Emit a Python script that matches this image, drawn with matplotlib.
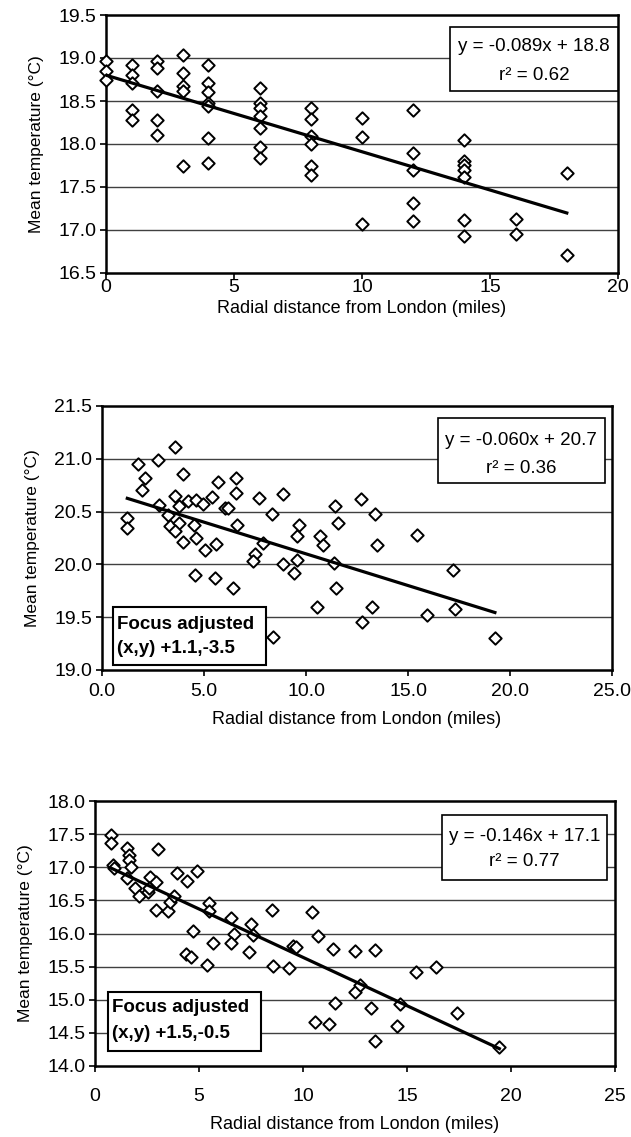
import matplotlib
matplotlib.use("Agg")
import matplotlib.pyplot as plt
from matplotlib.patches import Rectangle
import numpy as np

plt.rcParams['font.family'] = ['Liberation Sans', 'DejaVu Sans']

# ---------------- data ----------------
# Panel 1
p1_x = [0, 0, 0,
        1, 1, 1, 1, 1,
        2, 2, 2, 2, 2,
        3, 3, 3, 3, 3,
        4, 4, 4, 4, 4, 4, 4,
        6, 6, 6, 6, 6, 6, 6,
        8, 8, 8, 8, 8, 8,
        10, 10, 10,
        12, 12, 12, 12, 12,
        14, 14, 14, 14, 14, 14, 14,
        16, 16,
        18, 18]
p1_y = [18.97, 18.85, 18.75,
        18.92, 18.80, 18.71, 18.40, 18.28,
        18.96, 18.88, 18.62, 18.28, 18.10,
        19.03, 18.83, 18.68, 18.62, 17.74,
        18.92, 18.71, 18.60, 18.48, 18.44, 18.07, 17.78,
        18.65, 18.48, 18.42, 18.32, 18.19, 17.97, 17.84,
        18.42, 18.29, 18.09, 18.00, 17.74, 17.64,
        18.30, 18.08, 17.07,
        18.40, 17.89, 17.70, 17.31, 17.11,
        18.05, 17.80, 17.76, 17.70, 17.62, 17.12, 16.93,
        17.13, 16.95,
        17.66, 16.71]

# Panel 2
p2_x = [1.24, 1.24, 1.78, 2.11, 1.94, 2.76, 3.58, 3.99, 2.81, 3.58,
        3.25, 3.33, 3.79, 3.79, 3.58, 4.23, 4.61, 4.93, 4.53, 4.61,
        3.99, 5.05, 5.59, 5.38, 5.67, 6.03, 6.16, 6.55, 6.55, 6.60,
        4.56, 5.54, 6.44, 7.71, 8.32, 8.86, 7.88, 7.50, 7.39, 8.86,
        9.41, 9.54, 9.54, 9.67, 10.69, 10.85, 11.42, 11.59, 11.35, 11.47,
        10.52, 8.40, 12.70, 12.75, 13.38, 13.46, 15.42, 13.22, 15.95, 17.22,
        17.30, 19.26]
p2_y = [20.44, 20.34, 20.95, 20.82, 20.70, 20.99, 21.11, 20.86, 20.56, 20.65,
        20.47, 20.36, 20.55, 20.39, 20.32, 20.60, 20.61, 20.57, 20.37, 20.25,
        20.21, 20.14, 20.19, 20.64, 20.78, 20.53, 20.53, 20.82, 20.68, 20.37,
        19.90, 19.87, 19.78, 20.63, 20.48, 20.67, 20.20, 20.10, 20.03, 20.00,
        19.92, 20.04, 20.27, 20.37, 20.27, 20.18, 20.55, 20.39, 20.01, 19.78,
        19.60, 19.31, 20.62, 19.45, 20.48, 20.18, 20.28, 19.60, 19.52, 19.95,
        19.58, 19.30]

# Panel 3
p3_x = [0.75, 0.75, 0.85, 0.91, 1.52, 1.65, 1.65, 1.71, 1.52, 1.92,
        2.13, 3.04, 2.64, 2.93, 2.56, 2.61, 2.93, 3.52, 3.61, 3.81,
        3.96, 4.44, 4.92, 4.70, 4.37, 4.60, 5.40, 5.50, 5.50, 5.69,
        6.54, 6.70, 6.54, 7.50, 7.61, 7.42, 8.49, 8.54, 9.34, 9.54,
        9.66, 10.42, 10.74, 11.46, 11.54, 10.58, 11.27, 12.50, 12.50, 13.46,
        15.43, 16.38, 12.74, 13.27, 14.66, 14.50, 13.46, 17.39, 19.44]
p3_y = [17.48, 17.36, 17.04, 16.99, 17.29, 17.19, 17.11, 17.00, 16.84, 16.69,
        16.56, 17.28, 16.86, 16.78, 16.62, 16.68, 16.36, 16.34, 16.48, 16.56,
        16.91, 16.80, 16.95, 16.04, 15.69, 15.65, 15.52, 16.46, 16.34, 15.86,
        16.23, 15.99, 15.86, 16.15, 15.97, 15.72, 16.36, 15.51, 15.48, 15.81,
        15.80, 16.32, 15.96, 15.76, 14.95, 14.67, 14.64, 15.74, 15.12, 15.75,
        15.42, 15.50, 15.22, 14.88, 14.93, 14.60, 14.38, 14.80, 14.29]

slopes = [-0.089, -0.060, -0.146]
intercepts = [18.8, 20.7, 17.1]
eq_labels = ["y = -0.089x + 18.8", "y = -0.060x + 20.7", "y = -0.146x + 17.1"]
r2_labels = ["r² = 0.62", "r² = 0.36", "r² = 0.77"]
focus_labels = [None, ["Focus adjusted", "(x,y) +1.1,-3.5"], ["Focus adjusted", "(x,y) +1.5,-0.5"]]

y_ticks = [[16.5, 17.0, 17.5, 18.0, 18.5, 19.0, 19.5],
           [19.0, 19.5, 20.0, 20.5, 21.0, 21.5],
           [14.0, 14.5, 15.0, 15.5, 16.0, 16.5, 17.0, 17.5, 18.0]]
x_ticks = [[0, 5, 10, 15, 20], [0, 5, 10, 15, 20, 25], [0, 5, 10, 15, 20, 25]]
x_ticklabels = [["0", "5", "10", "15", "20"],
                ["0.0", "5.0", "10.0", "15.0", "20.0", "25.0"],
                ["0", "5", "10", "15", "20", "25"]]
xlabel = "Radial distance from London (miles)"
ylabel = "Mean temperature (°C)"

# ---------------- layout ----------------
W, H = 631, 1137
fig = plt.figure(figsize=(W / 100, H / 100), dpi=100)

# pixel boxes (left, top, right, bottom)
pix = [(106, 15, 618, 273), (102, 406, 612, 670), (95, 801, 615, 1066)]
eq_box = [(0.672, 0.7054, 1.0, 0.9535), (0.658, 0.708, 0.986, 0.9545), (0.667, 0.702, 0.984, 0.947)]
eq_text_y = [(0.877, 0.767), (0.871, 0.764), (0.865, 0.771)]
focus_box = [None, (0.0216, 0.019, 0.3216, 0.2386), (0.025, 0.0577, 0.3187, 0.280)]
focus_text_y = [None, (0.171, 0.083), (0.219, 0.124)]
xtick_pad = [0.5, 5.0, 12.0]
xlabel_pad = [3, 8, 8]

xs_all = [p1_x, p2_x, p3_x]
ys_all = [p1_y, p2_y, p3_y]

for i in range(3):
    l, t, r, b = pix[i]
    ax = fig.add_axes([l / W, 1 - b / H, (r - l) / W, (b - t) / H])
    xs = np.array(xs_all[i]); ys = np.array(ys_all[i])

    ax.set_xlim(x_ticks[i][0], x_ticks[i][-1])
    ax.set_ylim(y_ticks[i][0], y_ticks[i][-1])
    ax.set_yticks(y_ticks[i])
    ax.set_yticklabels([f"{v:.1f}" for v in y_ticks[i]])
    ax.set_xticks(x_ticks[i])
    ax.set_xticklabels(x_ticklabels[i])

    for yv in y_ticks[i][1:-1]:
        ax.axhline(yv, color='#404040', lw=1.0, zorder=1)

    ax.scatter(xs, ys, marker='D', s=40, facecolors='white', edgecolors='black',
               linewidths=1.4, zorder=3, clip_on=False)

    xl = np.array([xs.min(), xs.max()])
    ax.plot(xl, slopes[i] * xl + intercepts[i], color='black', lw=2.3, zorder=4)

    # equation box
    x0, y0, x1, y1 = eq_box[i]
    ax.add_patch(Rectangle((x0, y0), x1 - x0, y1 - y0, transform=ax.transAxes,
                           facecolor='white', edgecolor='black', lw=1.2, zorder=5,
                           clip_on=False))
    cx = (x0 + x1) / 2
    ax.text(cx, eq_text_y[i][0], eq_labels[i], transform=ax.transAxes, ha='center',
            va='center', fontsize=13.5, zorder=6)
    ax.text(cx, eq_text_y[i][1], r2_labels[i], transform=ax.transAxes, ha='center',
            va='center', fontsize=13.5, zorder=6)

    if focus_labels[i] is not None:
        x0, y0, x1, y1 = focus_box[i]
        ax.add_patch(Rectangle((x0, y0), x1 - x0, y1 - y0, transform=ax.transAxes,
                               facecolor='white', edgecolor='black', lw=1.5, zorder=5))
        ax.text(x0 + 0.008, focus_text_y[i][0], focus_labels[i][0], transform=ax.transAxes,
                ha='left', va='center', fontsize=13.5, fontweight='bold', zorder=6)
        ax.text(x0 + 0.008, focus_text_y[i][1], focus_labels[i][1], transform=ax.transAxes,
                ha='left', va='center', fontsize=13.5, fontweight='bold', zorder=6)

    for s in ax.spines.values():
        s.set_linewidth(1.8)
        s.set_color('black')
    ax.tick_params(axis='both', direction='out', length=4, width=1.2, labelsize=14,
                   pad=3, colors='black')
    ax.tick_params(axis='x', pad=xtick_pad[i])
    ax.set_xlabel(xlabel, fontsize=13, labelpad=xlabel_pad[i])
    ax.set_ylabel(ylabel, fontsize=12.5, labelpad=10)

fig.savefig("out.png", dpi=100)
